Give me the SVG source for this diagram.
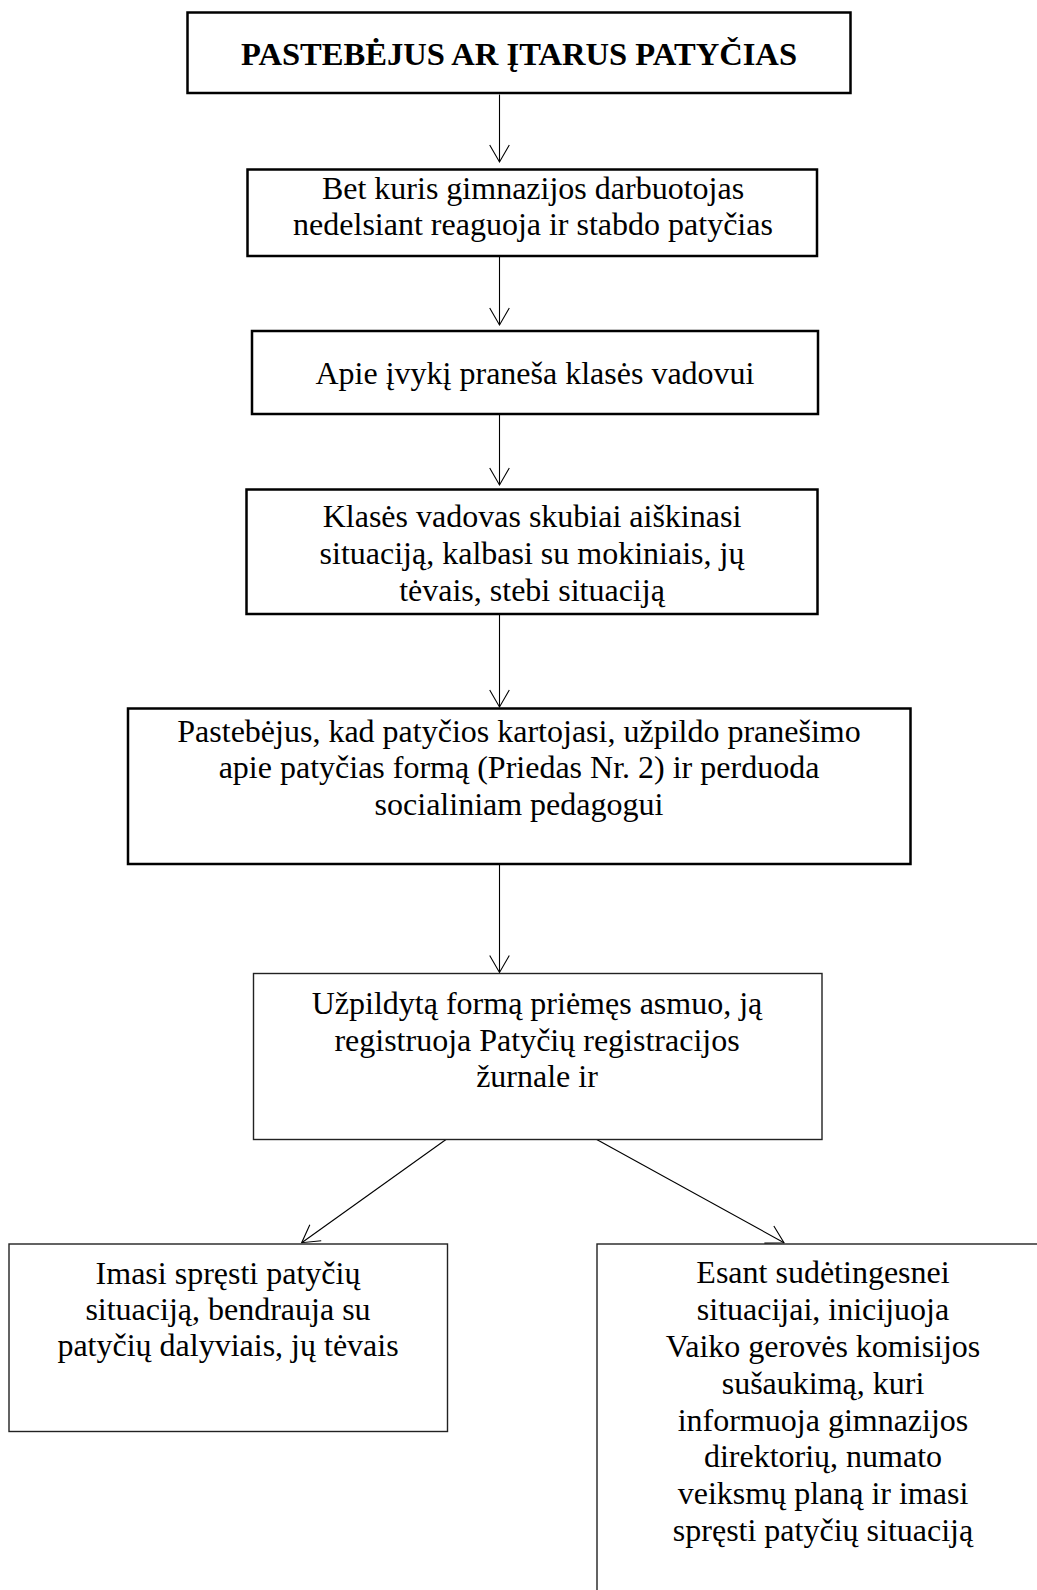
<svg xmlns="http://www.w3.org/2000/svg" width="1037" height="1590" viewBox="0 0 1037 1590">
<defs>
<style>
.thick{fill:#fff;stroke:#000;stroke-width:2.5}
.thin{fill:#fff;stroke:#222;stroke-width:1.4}
.t{font-family:"Liberation Serif","Times New Roman",serif;font-size:32px;fill:#000;text-anchor:middle}
.title{font-family:"Liberation Serif","Times New Roman",serif;font-size:32.6px;font-weight:bold;fill:#000;text-anchor:middle}
.c{fill:none;stroke:#000;stroke-width:1.1}
</style>
<marker id="ah" markerUnits="userSpaceOnUse" viewBox="-20 -12 22 24" refX="0" refY="0" markerWidth="22" markerHeight="24" orient="auto">
<path d="M-17,-9.8 L0,0 L-17,9.8" fill="none" stroke="#000" stroke-width="1.1"/>
</marker>
</defs>
<rect width="1037" height="1590" fill="#fff"/>
<g id="connectors">
<line class="c" x1="499.5" y1="94.5" x2="499.5" y2="162" marker-end="url(#ah)"/>
<line class="c" x1="499.5" y1="256.5" x2="499.5" y2="325" marker-end="url(#ah)"/>
<line class="c" x1="499.5" y1="415" x2="499.5" y2="485" marker-end="url(#ah)"/>
<line class="c" x1="499.5" y1="615" x2="499.5" y2="707" marker-end="url(#ah)"/>
<line class="c" x1="499.5" y1="865" x2="499.5" y2="972.5" marker-end="url(#ah)"/>
<line class="c" x1="446" y1="1139.5" x2="301.7" y2="1242.7" marker-end="url(#ah)"/>
<line class="c" x1="596.7" y1="1139.5" x2="784" y2="1242.7" marker-end="url(#ah)"/>
</g>
<g id="n1">
<rect class="thick" x="187.5" y="12.5" width="663" height="80.5"/>
<text class="title" x="519" y="64.5">PASTEBĖJUS AR ĮTARUS PATYČIAS</text>
</g>
<g id="n2">
<rect class="thick" x="247.5" y="169.5" width="569.5" height="86.5"/>
<text class="t" x="533" y="198.5">Bet kuris gimnazijos darbuotojas</text>
<text class="t" x="533" y="235">nedelsiant reaguoja ir stabdo patyčias</text>
</g>
<g id="n3">
<rect class="thick" x="252" y="331" width="566" height="83"/>
<text class="t" x="535" y="384">Apie įvykį praneša klasės vadovui</text>
</g>
<g id="n4">
<rect class="thick" x="246.5" y="489.5" width="571" height="124.5"/>
<text class="t" x="532" y="527.3">Klasės vadovas skubiai aiškinasi</text>
<text class="t" x="532" y="564">situaciją, kalbasi su mokiniais, jų</text>
<text class="t" x="532" y="600.7">tėvais, stebi situaciją</text>
</g>
<g id="n5">
<rect class="thick" x="128" y="708.5" width="782.5" height="155.5"/>
<text class="t" x="519" y="741.5">Pastebėjus, kad patyčios kartojasi, užpildo pranešimo</text>
<text class="t" x="519" y="778">apie patyčias formą (Priedas Nr. 2) ir perduoda</text>
<text class="t" x="519" y="814.5">socialiniam pedagogui</text>
</g>
<g id="n6">
<rect class="thin" x="253.5" y="973.5" width="568.5" height="166"/>
<text class="t" x="537" y="1014">Užpildytą formą priėmęs asmuo, ją</text>
<text class="t" x="537" y="1050.5">registruoja Patyčių registracijos</text>
<text class="t" x="537" y="1087">žurnale ir</text>
</g>
<g id="n7">
<rect class="thin" x="9" y="1244" width="438.5" height="187.5"/>
<text class="t" x="228" y="1284">Imasi spręsti patyčių</text>
<text class="t" x="228" y="1320">situaciją, bendrauja su</text>
<text class="t" x="228" y="1356">patyčių dalyviais, jų tėvais</text>
</g>
<g id="n8">
<rect class="thin" x="597" y="1244" width="500" height="400"/>
<text class="t" x="823" y="1283.3">Esant sudėtingesnei</text>
<text class="t" x="823" y="1320">situacijai, inicijuoja</text>
<text class="t" x="823" y="1356.7">Vaiko gerovės komisijos</text>
<text class="t" x="823" y="1394">sušaukimą, kuri</text>
<text class="t" x="823" y="1430.7">informuoja gimnazijos</text>
<text class="t" x="823" y="1467.3">direktorių, numato</text>
<text class="t" x="823" y="1504">veiksmų planą ir imasi</text>
<text class="t" x="823" y="1540.7">spręsti patyčių situaciją</text>
</g>
</svg>
